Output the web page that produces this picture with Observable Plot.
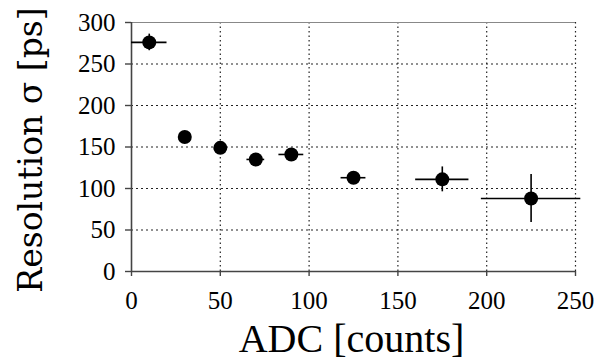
<!DOCTYPE html>
<html>
<head>
<meta charset="utf-8">
<script src="https://cdn.jsdelivr.net/npm/d3@7"></script>
<script src="https://cdn.jsdelivr.net/npm/@observablehq/plot@0.6"></script>
<style>
  html, body { margin: 0; padding: 0; background: #fff; }
  #chart svg, #chart svg text { font-family: "Liberation Serif", serif !important; font-variant: normal !important; font-variant-numeric: normal !important; }
</style>
</head>
<body>
<div id="chart"></div>
<script>
const adc = [10, 30, 50, 70, 90, 125, 175, 225];
const resolution = [276, 162, 149, 135, 141, 113, 111, 88];
const adcErr = [10, 0, 0, 5, 7, 7, 15, 28];
const resErr = [10, 0, 0, 0, 0, 0, 15, 29];
const xTicks = [0, 50, 100, 150, 200, 250];
const yTicks = [0, 50, 100, 150, 200, 250, 300];
const xTitle = "ADC [counts]";
const yTitle = "Resolution σ [ps]";

const serif = "Liberation Serif";
const points = adc.map((x, i) => ({x, y: resolution[i], xe: adcErr[i], ye: resErr[i]}));

const chart = Plot.plot({
  width: 616,
  height: 364,
  marginLeft: 131,
  marginRight: 41,
  marginTop: 22,
  marginBottom: 93,
  x: {domain: [0, 250]},
  y: {domain: [0, 300]},
  style: {fontFamily: serif, background: "#fff", color: "#000"},
  marks: [
    Plot.ruleX(xTicks.filter(d => d > 0), {stroke: "#222", strokeWidth: 1.2, strokeDasharray: "1.5,3"}),
    Plot.ruleY(yTicks.filter(d => d > 0 && d < 300), {stroke: "#222", strokeWidth: 1.2, strokeDasharray: "2,3"}),
    Plot.ruleY([300], {stroke: "#888", strokeWidth: 1.2}),
    Plot.ruleX([0], {stroke: "#444", strokeWidth: 1.6}),
    Plot.ruleY([0], {stroke: "#444", strokeWidth: 1.6}),
    Plot.axisX({ticks: xTicks, tickSize: 5, tickPadding: 15, fontSize: 25, fontFamily: serif, label: null, stroke: "#444", strokeWidth: 1.4}),
    Plot.axisY({ticks: yTicks, tickSize: 6, tickPadding: 10, fontSize: 25, fontFamily: serif, label: null, stroke: "#444", strokeWidth: 1.4}),
    Plot.ruleY(points.filter(d => d.xe > 0), {y: "y", x1: d => d.x - d.xe, x2: d => d.x + d.xe, stroke: "#000", strokeWidth: 1.6}),
    Plot.ruleX(points.filter(d => d.ye > 0), {x: "x", y1: d => d.y - d.ye, y2: d => d.y + d.ye, stroke: "#000", strokeWidth: 1.6}),
    Plot.dot(points, {x: "x", y: "y", r: 7, fill: "#000", stroke: "none"}),
    Plot.text([xTitle], {frameAnchor: "bottom", text: d => d, dx: -2, dy: 80, fontSize: 40, fontFamily: serif, fill: "#000"}),
    Plot.text([yTitle], {frameAnchor: "left", text: d => d, rotate: -90, textAnchor: "middle", dx: -100, dy: 3, fontSize: 33, fill: "#000"})
  ]
});
document.getElementById("chart").append(chart);
d3.select(chart).selectAll("text").filter(function() { return this.textContent === yTitle; })
  .style("font-family", "'DejaVu Serif', serif", "important");
</script>
</body>
</html>
